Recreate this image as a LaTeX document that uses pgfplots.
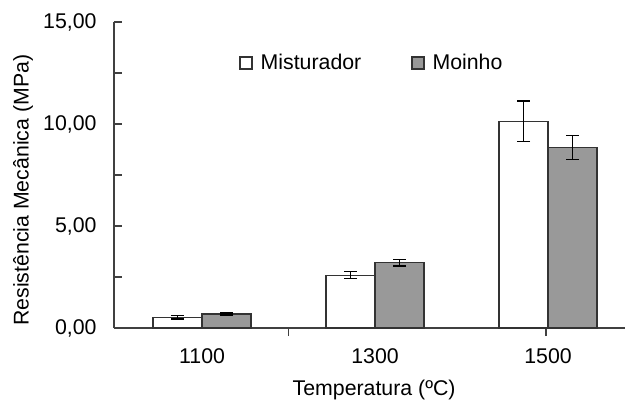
\documentclass[border=0pt]{standalone}
\usepackage{fontspec}
\setmainfont{Liberation Sans}
\usepackage{pgfplots}
\pgfplotsset{compat=1.18}
\newcommand\chartfont{\fontsize{21.3bp}{25bp}\selectfont}
\begin{document}
\begin{tikzpicture}
\useasboundingbox (-114bp,-76bp) rectangle (511bp,328bp);
\begin{axis}[
  at={(0,0)}, anchor=south west,
  width=511bp, height=306bp, scale only axis,
  ymin=0, ymax=15, xmin=-0.509, xmax=2.445,
  axis x line=bottom, axis y line=left,
  axis line style={draw=black!75, line width=1.3bp, -},
  x axis line style={-}, y axis line style={-},
  font=\chartfont,
  tick label style={font=\chartfont},
  label style={font=\chartfont},
  /pgf/number format/assume math mode=true,
  ytick={0,5,10,15},
  yticklabels={{0,00},{5,00},{10,00},{15,00}},
  minor ytick={2.5,7.5,12.5},
  tick align=inside,
  major tick length=8bp, minor tick length=8bp,
  tick style={draw=black!75, line width=1.3bp},
  yticklabel style={anchor=east, xshift=-14bp},
  xtick={0.5,1.988}, xticklabels={},
  extra x ticks={0,1,2},
  extra x tick labels={1100,1300,1500},
  extra x tick style={major tick length=0pt},
  xticklabel style={anchor=north, yshift=-17bp},
  xlabel={Temperatura (ºC)},
  ylabel={Resistência Mecânica (MPa)},
  xlabel style={at={(axis description cs:0.509,-0.222)}, anchor=base},
  ylabel style={at={(axis description cs:-0.167,0.45)}, rotate=0, anchor=base},
  ybar=0pt, bar width=49bp,
  legend style={at={(axis description cs:0.245,0.866)}, anchor=west, draw=none, fill=none,
    inner sep=0pt, legend columns=2, font=\chartfont,
    /tikz/every odd column/.append style={column sep=6bp},
    /tikz/every even column/.append style={column sep=48bp}},
  legend image code/.code={\draw[#1, line width=1.3bp] (0bp,-6bp) rectangle (12bp,6bp);},
]
\addplot[fill=white, draw=black!80, line width=1.3bp,
  error bars/.cd, y dir=both, y explicit,
  error bar style={black, line width=1.3bp},
  error mark options={rotate=90, mark size=6.5bp, line width=1.3bp, black}]
  coordinates {(0,0.52) +- (0,0.08) (1,2.59) +- (0,0.17) (2,10.13) +- (0,1.0)};
\addlegendentry{Misturador}
\addplot[fill=black!40, draw=black!80, line width=1.3bp,
  error bars/.cd, y dir=both, y explicit,
  error bar style={black, line width=1.3bp},
  error mark options={rotate=90, mark size=6.5bp, line width=1.3bp, black}]
  coordinates {(0,0.68) +- (0,0.05) (1,3.20) +- (0,0.16) (2,8.85) +- (0,0.6)};
\addlegendentry{Moinho}
\end{axis}
\end{tikzpicture}
\end{document}
